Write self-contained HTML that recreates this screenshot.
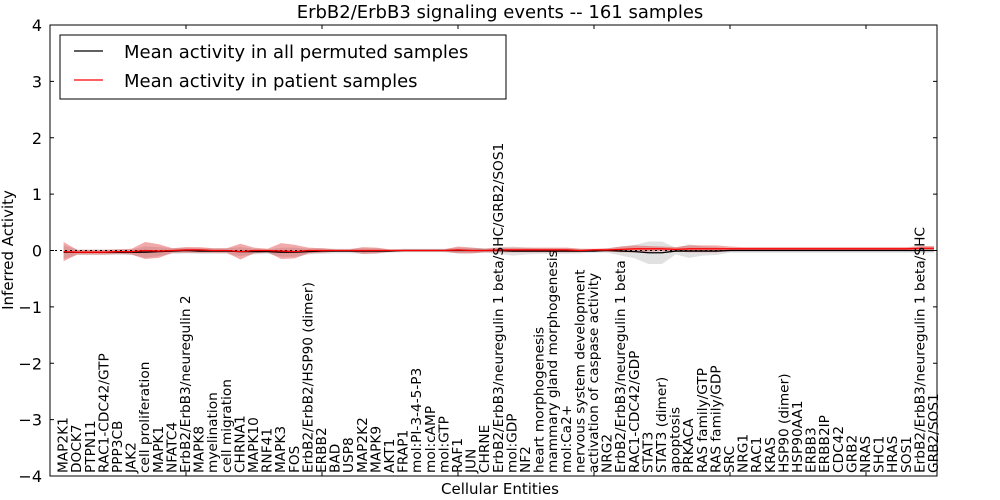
<!DOCTYPE html>
<html><head><meta charset="utf-8"><style>
body{margin:0;background:#fff;}
svg{display:block;font-family:"DejaVu Sans","Liberation Sans",sans-serif;}
</style></head><body>
<svg id="chart" width="1000" height="500"></svg>
<script>
const categories=["MAP2K1","DOCK7","PTPN11","RAC1-CDC42/GTP","PPP3CB","JAK2","cell proliferation","MAPK1","NFATC4","ErbB2/ErbB3/neuregulin 2","MAPK8","myelination","cell migration","CHRNA1","MAPK10","RNF41","MAPK3","FOS","ErbB2/ErbB2/HSP90 (dimer)","ERBB2","BAD","USP8","MAP2K2","MAPK9","AKT1","FRAP1","mol:PI-3-4-5-P3","mol:cAMP","mol:GTP","RAF1","JUN","CHRNE","ErbB2/ErbB3/neuregulin 1 beta/SHC/GRB2/SOS1","mol:GDP","NF2","heart morphogenesis","mammary gland morphogenesis","mol:Ca2+","nervous system development","activation of caspase activity","NRG2","ErbB2/ErbB3/neuregulin 1 beta","RAC1-CDC42/GDP","STAT3","STAT3 (dimer)","apoptosis","PRKACA","RAS family/GTP","RAS family/GDP","SRC","NRG1","RAC1","KRAS","HSP90 (dimer)","HSP90AA1","ERBB3","ERBB2IP","CDC42","GRB2","NRAS","SHC1","HRAS","SOS1","ErbB2/ErbB3/neuregulin 1 beta/SHC","GRB2/SOS1"];
const permutedMean=[-0.03,-0.03,-0.03,-0.03,-0.03,-0.03,-0.03,-0.02,-0.01,0.0,-0.01,-0.01,-0.01,-0.02,-0.02,-0.02,-0.03,-0.03,-0.02,-0.01,-0.01,-0.01,-0.01,-0.01,-0.01,0.0,0.0,0.0,0.0,0.0,0.0,0.0,0.0,-0.01,-0.01,-0.01,-0.01,-0.01,-0.01,-0.01,0.0,-0.01,-0.02,-0.04,-0.04,-0.01,-0.01,-0.01,-0.01,0.0,0.0,0.0,0.0,0.0,0.0,0.0,0.0,0.0,0.0,0.0,0.0,0.0,0.0,0.0,0.0];
const patientMean=[-0.02,-0.03,-0.03,-0.03,-0.02,-0.02,0.0,-0.01,0.0,0.01,0.01,0.0,0.0,-0.02,0.0,0.0,-0.01,-0.02,0.0,0.0,0.0,0.0,0.0,0.0,0.0,0.0,0.0,0.0,0.0,0.01,0.0,0.0,0.01,0.01,0.01,0.01,0.01,0.01,0.0,0.01,0.01,0.02,0.03,0.03,0.03,0.02,0.03,0.03,0.03,0.03,0.03,0.03,0.03,0.03,0.03,0.03,0.03,0.03,0.03,0.03,0.03,0.03,0.03,0.04,0.04];
const patientSpread=[0.17,0.04,0.04,0.04,0.04,0.05,0.15,0.12,0.04,0.05,0.05,0.04,0.04,0.14,0.05,0.03,0.14,0.12,0.05,0.04,0.02,0.02,0.06,0.05,0.02,0.02,0.02,0.02,0.02,0.06,0.05,0.03,0.04,0.04,0.04,0.04,0.04,0.04,0.03,0.02,0.03,0.05,0.06,0.05,0.04,0.04,0.06,0.06,0.06,0.04,0.03,0.03,0.03,0.03,0.03,0.03,0.03,0.03,0.03,0.03,0.03,0.03,0.03,0.04,0.04];
const permutedSpread=[0.12,0.05,0.05,0.05,0.05,0.05,0.1,0.08,0.05,0.05,0.05,0.05,0.05,0.08,0.05,0.04,0.08,0.08,0.05,0.05,0.04,0.04,0.05,0.05,0.03,0.03,0.03,0.03,0.03,0.05,0.05,0.04,0.06,0.08,0.06,0.05,0.05,0.05,0.04,0.03,0.04,0.08,0.12,0.2,0.2,0.06,0.12,0.08,0.07,0.04,0.04,0.04,0.04,0.04,0.04,0.04,0.04,0.04,0.04,0.04,0.04,0.04,0.04,0.04,0.04];
const yTicks=[-4,-3,-2,-1,0,1,2,3,4];

const NS="http://www.w3.org/2000/svg";
const svg=document.getElementById('chart');
const L=50,R=937,T=25,B=476;
const x=i=>63.6+13.6*i;
const y=v=>T+(4-v)*(B-T)/8;
function mk(tag,attrs,parent){const e=document.createElementNS(NS,tag);for(const k in attrs)e.setAttribute(k,attrs[k]);(parent||svg).appendChild(e);return e;}

function band(mean,spread,fill,name){
  let pts=mean.map((m,i)=>x(i)+','+y(m+spread[i]));
  for(let i=mean.length-1;i>=0;i--)pts.push(x(i)+','+y(mean[i]-spread[i]));
  const p=mk('polygon',{points:pts.join(' '),fill:fill});
  
  
}
band(permutedMean,permutedSpread,'rgba(180,180,180,0.4)','permuted-band');
band(patientMean,patientSpread,'rgba(220,40,40,0.4)','patient-band');
const zl=mk('line',{x1:L,x2:R,y1:y(0),y2:y(0),stroke:'#000','stroke-dasharray':'2,3','stroke-width':1});


const l1=mk('polyline',{points:permutedMean.map((m,i)=>x(i)+','+y(m)).join(' '),fill:'none',stroke:'#000','stroke-width':1.3});


const l2=mk('polyline',{points:patientMean.map((m,i)=>x(i)+','+y(m)).join(' '),fill:'none',stroke:'#f00','stroke-width':1.3});



const frame=mk('rect',{x:L,y:T,width:R-L,height:B-T,fill:'none',stroke:'#000','stroke-width':1});



yTicks.forEach(v=>{
  mk('line',{x1:L,x2:L+4,y1:y(v),y2:y(v),stroke:'#000'});
  mk('line',{x1:R,x2:R-4,y1:y(v),y2:y(v),stroke:'#000'});
  const t=mk('text',{x:L-8,y:y(v)+6,'text-anchor':'end','font-size':16});
  t.textContent=(v<0?'\u2212':'')+Math.abs(v);
  
  
});
for(let i=9;i<categories.length;i+=10){
  mk('line',{x1:x(i),x2:x(i),y1:T,y2:T+4,stroke:'#000'});
  mk('line',{x1:x(i),x2:x(i),y1:B,y2:B-4,stroke:'#000'});
}
categories.forEach((c,i)=>{
  const t=mk('text',{x:0,y:0,'font-size':13.7,transform:`translate(${x(i)+4},473) rotate(-90)`});
  t.textContent=c;
  
  
});

const title=mk('text',{x:500,y:18,'text-anchor':'middle','font-size':18});
title.textContent='ErbB2/ErbB3 signaling events -- 161 samples';


const xt=mk('text',{x:500,y:494,'text-anchor':'middle','font-size':15});
xt.textContent='Cellular Entities';


const yt=mk('text',{x:0,y:0,'text-anchor':'middle','font-size':15,transform:'translate(13,250) rotate(-90)'});
yt.textContent='Inferred Activity';



const lg=mk('g',{});


mk('rect',{x:60,y:35,width:446,height:64,fill:'#fff',stroke:'#000'},lg);
mk('line',{x1:74,x2:103,y1:51,y2:51,stroke:'#000','stroke-width':1.3},lg);
mk('line',{x1:74,x2:103,y1:80,y2:80,stroke:'#f00','stroke-width':1.3},lg);
const e1=mk('text',{x:124,y:58,'font-size':18},lg);
e1.textContent='Mean activity in all permuted samples';


const e2=mk('text',{x:124,y:87,'font-size':18},lg);
e2.textContent='Mean activity in patient samples';


</script>
</body></html>
